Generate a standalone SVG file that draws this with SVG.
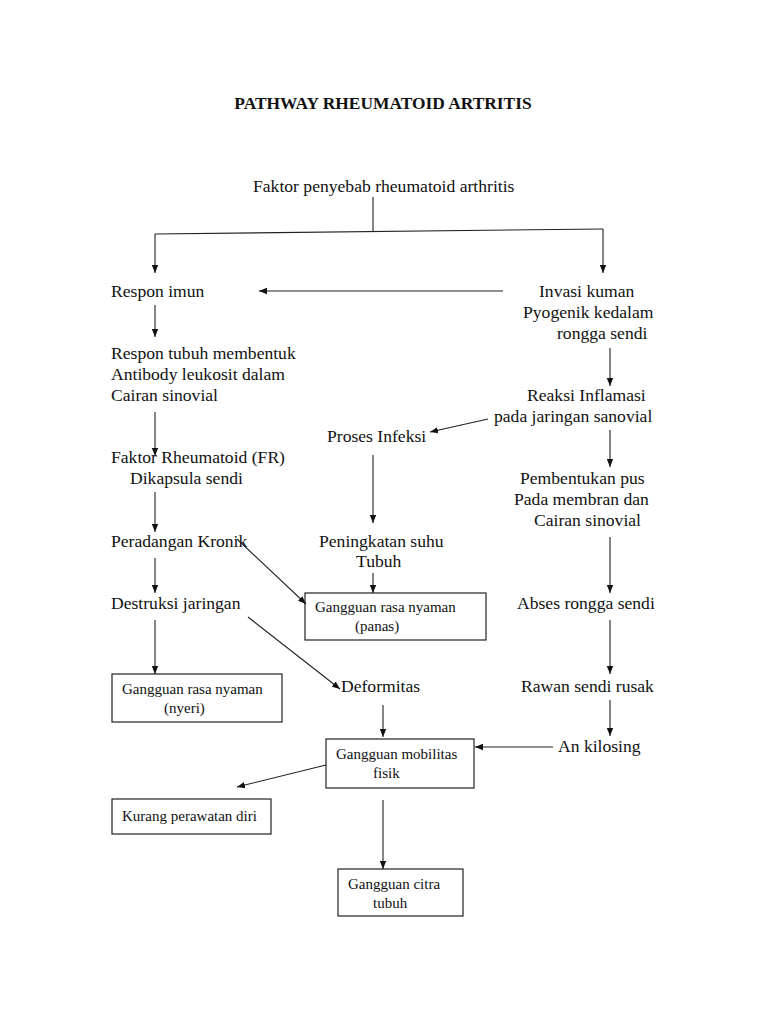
<svg xmlns="http://www.w3.org/2000/svg" width="768" height="1024" viewBox="0 0 768 1024">
<style>
text{font-family:"Liberation Serif","Times New Roman",serif;fill:#111;}
.t{font-size:17.6px;}
.s{font-size:15px;}
.h{font-size:17.4px;font-weight:bold;}
.box{fill:#fff;stroke:#222;stroke-width:1.2;}
.c line,.c polyline{stroke:#222;stroke-width:1.1;fill:none;}
.a{marker-end:url(#ah);}
</style>
<defs>
<marker id="ah" viewBox="0 0 10 10" refX="10" refY="5" markerWidth="8" markerHeight="8" markerUnits="userSpaceOnUse" orient="auto">
<path d="M0,1 L10,5 L0,9 z" fill="#111"/>
</marker>
</defs>
<rect width="768" height="1024" fill="#fff"/>
<text class="h" x="383" y="109" text-anchor="middle">PATHWAY RHEUMATOID ARTRITIS</text>

<g id="n-faktor"><text class="t" x="253" y="192">Faktor penyebab rheumatoid arthritis</text></g>
<g id="n-respon-imun"><text class="t" x="111" y="297">Respon imun</text></g>
<g id="n-invasi"><text class="t" x="539" y="297">Invasi kuman</text><text class="t" x="523" y="318">Pyogenik kedalam</text><text class="t" x="557" y="339">rongga sendi</text></g>
<g id="n-respon-tubuh"><text class="t" x="111" y="359">Respon tubuh membentuk</text><text class="t" x="111" y="380">Antibody leukosit dalam</text><text class="t" x="111" y="401">Cairan sinovial</text></g>
<g id="n-reaksi"><text class="t" x="527" y="401">Reaksi Inflamasi</text><text class="t" x="494" y="422">pada jaringan sanovial</text></g>
<g id="n-proses"><text class="t" x="327" y="442">Proses Infeksi</text></g>
<g id="n-fr"><text class="t" x="111" y="463">Faktor Rheumatoid (FR)</text><text class="t" x="130" y="484">Dikapsula sendi</text></g>
<g id="n-pus"><text class="t" x="520" y="484">Pembentukan pus</text><text class="t" x="514" y="505">Pada membran dan</text><text class="t" x="534" y="526">Cairan sinovial</text></g>
<g id="n-peradangan"><text class="t" x="111" y="547">Peradangan Kronik</text></g>
<g id="n-suhu"><text class="t" x="319" y="547">Peningkatan suhu</text><text class="t" x="356" y="567">Tubuh</text></g>
<g id="n-destruksi"><text class="t" x="111" y="609">Destruksi jaringan</text></g>
<g id="n-abses"><text class="t" x="517" y="609">Abses rongga sendi</text></g>
<g id="n-panas"><rect class="box" x="305" y="593" width="181" height="47"/><text class="s" x="315" y="612">Gangguan rasa nyaman</text><text class="s" x="355" y="631">(panas)</text></g>
<g id="n-nyeri"><rect class="box" x="112" y="674" width="170" height="48"/><text class="s" x="122" y="694">Gangguan rasa nyaman</text><text class="s" x="164" y="713">(nyeri)</text></g>
<g id="n-deformitas"><text class="t" x="341" y="692">Deformitas</text></g>
<g id="n-rawan"><text class="t" x="521" y="692">Rawan sendi rusak</text></g>
<g id="n-ankilosing"><text class="t" x="558" y="752">An kilosing</text></g>
<g id="n-mobilitas"><rect class="box" x="326" y="739" width="148" height="49"/><text class="s" x="336" y="759">Gangguan mobilitas</text><text class="s" x="373" y="778">fisik</text></g>
<g id="n-kurang"><rect class="box" x="112" y="799" width="159" height="35"/><text class="s" x="122" y="821">Kurang perawatan diri</text></g>
<g id="n-citra"><rect class="box" x="338" y="869" width="125" height="47"/><text class="s" x="348" y="889">Gangguan citra</text><text class="s" x="373" y="908">tubuh</text></g>

<g id="connectors" class="c">
<line x1="373" y1="197" x2="373" y2="231"/>
<line x1="155" y1="234" x2="603" y2="229"/>
<line class="a" x1="155" y1="234" x2="155" y2="273"/>
<line class="a" x1="603" y1="229" x2="603" y2="273"/>
<line class="a" x1="503" y1="291" x2="259" y2="291"/>
<line class="a" x1="155" y1="305" x2="155" y2="337"/>
<line class="a" x1="155" y1="412" x2="155" y2="456"/>
<line class="a" x1="155" y1="492" x2="155" y2="532"/>
<line class="a" x1="155" y1="558" x2="155" y2="593"/>
<line class="a" x1="155" y1="620" x2="155" y2="674"/>
<line class="a" x1="610" y1="348" x2="610" y2="386"/>
<line class="a" x1="488" y1="419" x2="430" y2="432"/>
<line class="a" x1="610" y1="430" x2="610" y2="467"/>
<line class="a" x1="610" y1="537" x2="610" y2="593"/>
<line class="a" x1="610" y1="620" x2="610" y2="674"/>
<line class="a" x1="610" y1="700" x2="610" y2="736"/>
<line class="a" x1="553" y1="747" x2="475" y2="747"/>
<line class="a" x1="373" y1="455" x2="373" y2="523"/>
<line class="a" x1="373" y1="573" x2="373" y2="593"/>
<line class="a" x1="237" y1="539" x2="306" y2="604"/>
<line class="a" x1="248" y1="617" x2="340" y2="689"/>
<line class="a" x1="383" y1="705" x2="383" y2="737"/>
<line class="a" x1="326" y1="765" x2="237" y2="787"/>
<line class="a" x1="383" y1="800" x2="383" y2="869"/>
</g>
</svg>
